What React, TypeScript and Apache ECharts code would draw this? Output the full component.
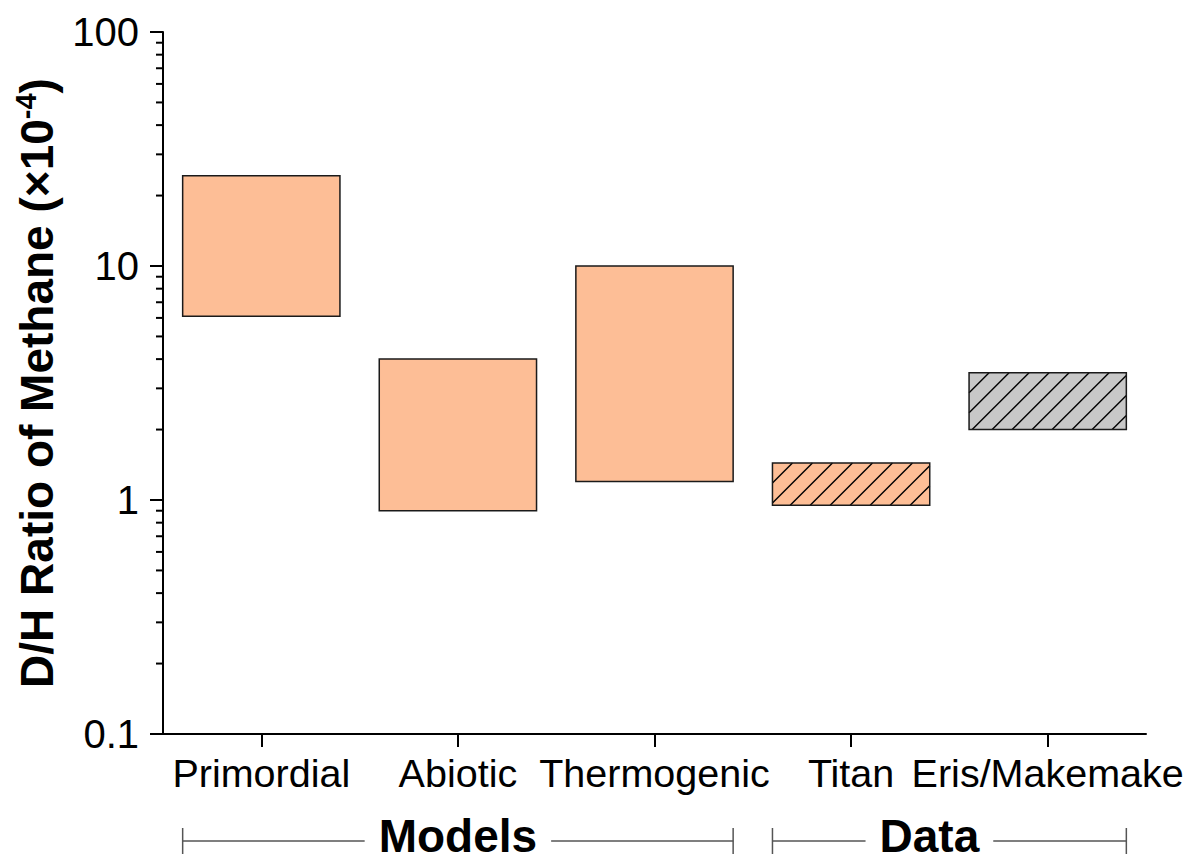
import React, { useEffect, useRef } from 'react';
import * as echarts from 'echarts';

// ---- data ----
const categories = ['Primordial', 'Abiotic', 'Thermogenic', 'Titan', 'Eris/Makemake'];
const rangeLow = [6.1, 0.9, 1.2, 0.95, 2.0];
const rangeHigh = [24.3, 4.0, 10.0, 1.44, 3.5];
const fillColors = ['#FDBE96', '#FDBE96', '#FDBE96', '#FDBE96', '#C8C8C8'];
const hatched = [false, false, false, true, true];
const yTickValues = [0.1, 1, 10, 100];
const yMinorTicks = [0.2, 0.3, 0.4, 0.5, 0.6, 0.7, 0.8, 0.9, 2, 3, 4, 5, 6, 7, 8, 9, 20, 30, 40, 50, 60, 70, 80, 90];
const groupNames = ['Models', 'Data'];
const groupFirst = [0, 3];
const groupLast = [2, 4];

const FONT = '"Liberation Sans", Arial, Helvetica, sans-serif';

export default function App() {
  const ref = useRef<HTMLDivElement>(null);

  useEffect(() => {
    if (!ref.current) return;
    const chart = echarts.init(ref.current, null, { renderer: 'svg' });
    const BAR_FRAC = 0.8;
    const HATCH_STEP = 20;

    const option: any = {
      animation: false,
      backgroundColor: '#fff',
      textStyle: { fontFamily: FONT },
      grid: { left: 163, top: 32, right: 48, bottom: 127, containLabel: false },
      xAxis: {
        type: 'category',
        data: categories,
        boundaryGap: true,
        axisLine: { show: true, lineStyle: { color: '#000', width: 2 } },
        axisTick: { show: true, alignWithLabel: true, length: 13, lineStyle: { color: '#000', width: 2 } },
        axisLabel: { fontSize: 39.5, color: '#000', margin: 19, interval: 0, fontFamily: FONT },
        splitLine: { show: false },
      },
      yAxis: {
        type: 'log',
        logBase: 10,
        min: 0.1,
        max: 100,
        name: '{t|D/H Ratio of Methane (×10}{s|-4}{t|)}',
        nameLocation: 'middle',
        nameRotate: 90,
        nameGap: 100,
        nameTextStyle: {
          rich: {
            t: { fontSize: 46, fontWeight: 'bold', color: '#000', fontFamily: FONT, lineHeight: 52 },
            s: { fontSize: 29, fontWeight: 'bold', color: '#000', fontFamily: FONT, verticalAlign: 'top', lineHeight: 52 },
          },
        },
        axisLine: { show: true, lineStyle: { color: '#000', width: 2 } },
        axisTick: { show: true, length: 13, lineStyle: { color: '#000', width: 2 } },
        axisLabel: {
          fontSize: 40,
          color: '#000',
          margin: 24,
          fontFamily: FONT,
          formatter: (v: number) => {
            const t = yTickValues.find((x) => Math.abs(x - v) / x < 1e-6);
            return t === undefined ? '' : String(t);
          },
        },
        splitLine: { show: false },
        minorTick: { show: false },
      },
      series: [
        {
          type: 'custom',
          name: 'ranges',
          clip: false,
          encode: { x: 0, y: [1, 2] },
          data: categories.map((c, i) => [i, rangeLow[i], rangeHigh[i]]),
          renderItem: (params: any, api: any) => {
            const i = params.dataIndex;
            const idx = api.value(0);
            const pLo = api.coord([idx, api.value(1)]);
            const pHi = api.coord([idx, api.value(2)]);
            const band = api.size([1, 0])[0];
            const w = band * BAR_FRAC;
            const x0 = pLo[0] - w / 2;
            const x1 = pLo[0] + w / 2;
            const y0 = pHi[1];
            const y1 = pLo[1];
            const children: any[] = [
              {
                type: 'rect',
                shape: { x: x0, y: y0, width: w, height: y1 - y0 },
                style: { fill: fillColors[i], stroke: 'none' },
              },
            ];
            if (hatched[i]) {
              for (let c = x0 + y0 + HATCH_STEP; c < x1 + y1; c += HATCH_STEP) {
                const xa = Math.max(x0, c - y1);
                const xb = Math.min(x1, c - y0);
                if (xb > xa) {
                  children.push({
                    type: 'line',
                    shape: { x1: xa, y1: c - xa, x2: xb, y2: c - xb },
                    style: { stroke: '#000', lineWidth: 1.4 },
                  });
                }
              }
            }
            children.push({
              type: 'rect',
              shape: { x: x0, y: y0, width: w, height: y1 - y0 },
              style: { fill: 'none', stroke: '#1a1a1a', lineWidth: 1.5 },
            });
            return { type: 'group', children };
          },
        },
        {
          type: 'custom',
          name: 'minorTicks',
          clip: false,
          silent: true,
          encode: { x: 0, y: 1 },
          data: yMinorTicks.map((v) => [0, v]),
          renderItem: (params: any, api: any) => {
            const p = api.coord([0, api.value(1)]);
            const cs = params.coordSys;
            return {
              type: 'line',
              shape: { x1: cs.x - 7, y1: p[1], x2: cs.x, y2: p[1] },
              style: { stroke: '#000', lineWidth: 2 },
            };
          },
        },
      ],
    };
    chart.setOption(option);

    // group brackets under the axis
    const canvas = document.createElement('canvas');
    const ctx = canvas.getContext('2d')!;
    const GROUP_FONT = 46;
    ctx.font = `bold ${GROUP_FONT}px ${FONT}`;
    const px = (i: number) => chart.convertToPixel({ xAxisIndex: 0 }, categories[i]) as number;
    const band = px(1) - px(0);
    const half = (band * BAR_FRAC) / 2;
    const labelShift = [0, -20];
    const yLine = 841;
    const elements: any[] = [];
    groupNames.forEach((name, g) => {
      const left = px(groupFirst[g]) - half;
      const right = px(groupLast[g]) + half;
      const cx = (left + right) / 2 + labelShift[g];
      const tw = ctx.measureText(name).width;
      const gap = 14;
      const lineStyle = { stroke: '#555', lineWidth: 1.5 };
      elements.push(
        { type: 'line', shape: { x1: left, y1: yLine - 13, x2: left, y2: yLine + 13 }, style: lineStyle },
        { type: 'line', shape: { x1: right, y1: yLine - 13, x2: right, y2: yLine + 13 }, style: lineStyle },
        { type: 'line', shape: { x1: left, y1: yLine, x2: cx - tw / 2 - gap, y2: yLine }, style: lineStyle },
        { type: 'line', shape: { x1: cx + tw / 2 + gap, y1: yLine, x2: right, y2: yLine }, style: lineStyle },
        {
          type: 'text',
          x: cx,
          y: 836,
          style: {
            text: name,
            fontSize: GROUP_FONT,
            fontWeight: 'bold',
            fontFamily: FONT,
            fill: '#000',
            align: 'center',
            verticalAlign: 'middle',
          },
        }
      );
    });
    chart.setOption({ graphic: { elements } });

    return () => chart.dispose();
  }, []);

  return (
    <div
      ref={ref}
      style={{ position: 'fixed', left: 0, top: 0, width: 1194, height: 861, background: '#fff' }}
    />
  );
}
